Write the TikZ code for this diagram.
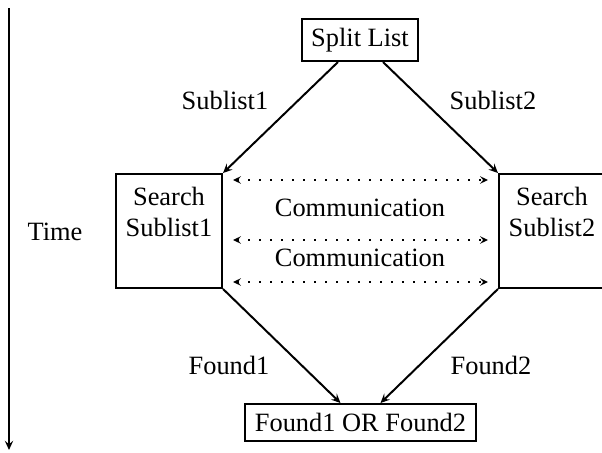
\documentclass[tikz,border=0pt]{standalone}
\usepackage{fontspec}
\setmainfont{Liberation Serif}
\usetikzlibrary{arrows.meta,calc}
\begin{document}
\begin{tikzpicture}[x=0.4545pt,y=-0.4545pt,
  every node/.style={font=\fontsize{12}{14.5}\selectfont},
  boxnode/.style={draw,line width=0.9pt,inner sep=0pt},
  flow/.style={line width=0.9pt,-{Stealth[length=4.2pt,width=3.8pt,inset=1.6pt]}},
  comm/.style={line width=0.8pt,dash pattern=on 0.6pt off 4.4pt,
     {Stealth[length=3.6pt,width=3.4pt,inset=1.4pt]}-{Stealth[length=3.6pt,width=3.4pt,inset=1.4pt]}},
  lbl/.style={inner sep=0pt}]
\useasboundingbox (0,0) rectangle (602,453);
% time axis
\coordinate (t0) at (9,8);
\coordinate (t1) at (9,450);
\draw[flow] (t0) -- (t1);
\node[lbl] (time) at (55,232) {Time};
% boxes
\node[boxnode,minimum width=52.7pt,minimum height=19.1pt] (split) at (360,40) {Split List};
\node[boxnode] (s1) at (169,231)
  {\parbox[c][51.8pt][t]{48.2pt}{\centering\rule{0pt}{14.1pt}Search\\Sublist1}};
\node[boxnode] (s2) at (552,231)
  {\parbox[c][51.8pt][t]{48.2pt}{\centering\rule{0pt}{14.1pt}Search\\Sublist2}};
\node[boxnode,minimum width=105pt,minimum height=16.8pt] (found) at (360.5,422.5) {Found1 OR Found2};
% flow arrows
\draw[flow] ($(split.south)+(-22,0)$) -- (s1.north east);
\draw[flow] ($(split.south)+(23,0)$) -- (s2.north west);
\draw[flow] (s1.south east) -- ($(found.north)+(-20,0)$);
\draw[flow] (s2.south west) -- ($(found.north)+(20,0)$);
% labels
\node[lbl] (l1) at (225,100) {Sublist1};
\node[lbl] (l2) at (493,100) {Sublist2};
\node[lbl] (l3) at (229,365) {Found1};
\node[lbl] (l4) at (491,365) {Found2};
% communication
\coordinate (ca1) at (233,180); \coordinate (cb1) at (488,180);
\coordinate (ca2) at (233,240); \coordinate (cb2) at (488,240);
\coordinate (ca3) at (233,282); \coordinate (cb3) at (488,282);
\draw[comm] (ca1) -- (cb1);
\draw[comm] (ca2) -- (cb2);
\draw[comm] (ca3) -- (cb3);
\node[lbl] (c1) at (360,208) {Communication};
\node[lbl] (c2) at (360,258) {Communication};
\end{tikzpicture}
\end{document}
